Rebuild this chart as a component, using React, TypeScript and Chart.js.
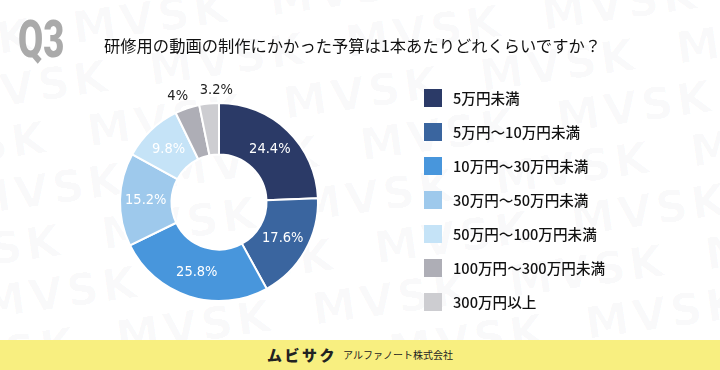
import React, { useEffect, useRef } from "react";
import { Chart, registerables } from "chart.js";

Chart.register(...registerables);

// Budget bands and their share of answers (%)
const categories = [
  "5万円未満",
  "5万円～10万円未満",
  "10万円～30万円未満",
  "30万円～50万円未満",
  "50万円～100万円未満",
  "100万円～300万円未満",
  "300万円以上",
];
const shares = [24.4, 17.6, 25.8, 15.2, 9.8, 4, 3.2];
const sliceColors = ["#2b3a67", "#3a659f", "#4896dc", "#9ec9ec", "#c5e3f7", "#aeaeb6", "#cdcdd1"];

const questionText = "研修用の動画の制作にかかった予算は1本あたりどれくらいですか？";
const watermarkRows = [0, 1, 2, 3, 4, 5, 6, 7];

const CJK = '"Noto Sans CJK JP", "Noto Sans", sans-serif';
const NUM = '"DejaVu Sans Condensed", "DejaVu Sans", sans-serif';

// Writes the percentage on each slice; small slices get it just outside the ring,
// with neighbouring outside labels pushed apart (earlier one right-aligned, later one left-aligned)
const sliceLabels = {
  id: "sliceLabels",
  afterDatasetsDraw(chart: any) {
    const ctx = chart.ctx;
    const meta = chart.getDatasetMeta(0);
    const values = chart.data.datasets[0].data as number[];
    const outside = values.map((v, i) => (v < 5 ? i : -1)).filter((i) => i >= 0);
    ctx.save();
    ctx.textBaseline = "middle";
    ctx.font = `14.5px ${NUM}`;
    meta.data.forEach((arc: any, i: number) => {
      const v = values[i];
      const text = `${v}%`;
      if (v >= 5) {
        const p = arc.tooltipPosition();
        ctx.textAlign = "center";
        ctx.fillStyle = "#ffffff";
        ctx.fillText(text, p.x, p.y);
      } else {
        const mid = (arc.startAngle + arc.endAngle) / 2;
        const r = arc.outerRadius + 13;
        const x = arc.x + Math.cos(mid) * r;
        const y = arc.y + Math.sin(mid) * r;
        const pos = outside.indexOf(i);
        ctx.fillStyle = "#222222";
        if (outside.length > 1 && pos === outside.length - 1) {
          ctx.textAlign = "left";
          ctx.fillText(text, x - 8, y);
        } else if (outside.length > 1) {
          ctx.textAlign = "right";
          ctx.fillText(text, x + 5, y);
        } else {
          ctx.textAlign = "center";
          ctx.fillText(text, x, y);
        }
      }
    });
    ctx.restore();
  },
};

export default function App() {
  const canvasRef = useRef<HTMLCanvasElement | null>(null);

  useEffect(() => {
    if (!canvasRef.current) return;
    const chart = new Chart(canvasRef.current, {
      type: "doughnut",
      data: {
        labels: categories,
        datasets: [
          {
            data: shares,
            backgroundColor: sliceColors,
            borderColor: "#ffffff",
            borderWidth: 2,
          },
        ],
      },
      options: {
        responsive: false,
        maintainAspectRatio: false,
        animation: false,
        cutout: "48%",
        layout: { padding: { left: 119, right: 401, top: 102, bottom: 68 } },
        plugins: {
          legend: { display: false },
          tooltip: { enabled: false },
        },
      },
      plugins: [sliceLabels],
    });
    return () => chart.destroy();
  }, []);

  return (
    <div
      style={{
        position: "fixed",
        left: 0,
        top: 0,
        width: 720,
        height: 370,
        background: "#ffffff",
        overflow: "hidden",
        fontFamily: CJK,
      }}
    >
      {/* faint brand watermark */}
      <div style={{ position: "absolute", left: -60, top: -40, width: 900, height: 460, transform: "rotate(-8deg)" }}>
        {watermarkRows.map((r) => (
          <div
            key={r}
            style={{
              position: "absolute",
              left: (r % 2) * 70 - 40,
              top: r * 52,
              whiteSpace: "nowrap",
              fontFamily: '"DejaVu Sans", sans-serif',
              fontWeight: 700,
              fontSize: 44,
              letterSpacing: 4,
              color: "rgba(90,90,120,0.028)",
            }}
          >
            MVSK&nbsp;&nbsp;MVSK&nbsp;&nbsp;MVSK&nbsp;&nbsp;MVSK&nbsp;&nbsp;MVSK&nbsp;&nbsp;MVSK
          </div>
        ))}
      </div>

      <canvas ref={canvasRef} width={720} height={370} style={{ position: "absolute", left: 0, top: 0 }} />

      {/* question heading */}
      <div
        style={{
          position: "absolute",
          left: 18,
          top: 11,
          fontFamily: "Roboto, sans-serif",
          fontWeight: 900,
          fontSize: 52,
          lineHeight: "58px",
          color: "#aaaaaa",
          transform: "scaleX(0.7)",
          transformOrigin: "left center",
        }}
      >
        Q3
      </div>
      <div
        style={{
          position: "absolute",
          left: 104,
          top: 33,
          fontSize: 16.3,
          lineHeight: "24px",
          color: "#111111",
          whiteSpace: "nowrap",
        }}
      >
        {questionText}
      </div>

      {/* legend */}
      {categories.map((c, i) => (
        <div
          key={c}
          style={{ position: "absolute", left: 424, top: 89 + i * 34, height: 18, display: "flex", alignItems: "center" }}
        >
          <div style={{ width: 18, height: 18, background: sliceColors[i] }} />
          <div
            style={{
              marginLeft: 11,
              fontSize: 14.6,
              fontWeight: 500,
              color: "#111111",
              whiteSpace: "nowrap",
              lineHeight: "18px",
            }}
          >
            {c}
          </div>
        </div>
      ))}

      {/* footer band */}
      <div style={{ position: "absolute", left: 0, top: 340, width: 720, height: 30, background: "#f8ef80" }}>
        <span
          style={{
            position: "absolute",
            left: 267,
            top: 5,
            lineHeight: "20px",
            fontWeight: 900,
            fontSize: 15,
            letterSpacing: 2.5,
            color: "#222222",
          }}
        >
          ムビサク
        </span>
        <span
          style={{
            position: "absolute",
            left: 343,
            top: 7,
            lineHeight: "16px",
            fontSize: 10,
            color: "#222222",
            whiteSpace: "nowrap",
          }}
        >
          アルファノート株式会社
        </span>
      </div>
    </div>
  );
}
